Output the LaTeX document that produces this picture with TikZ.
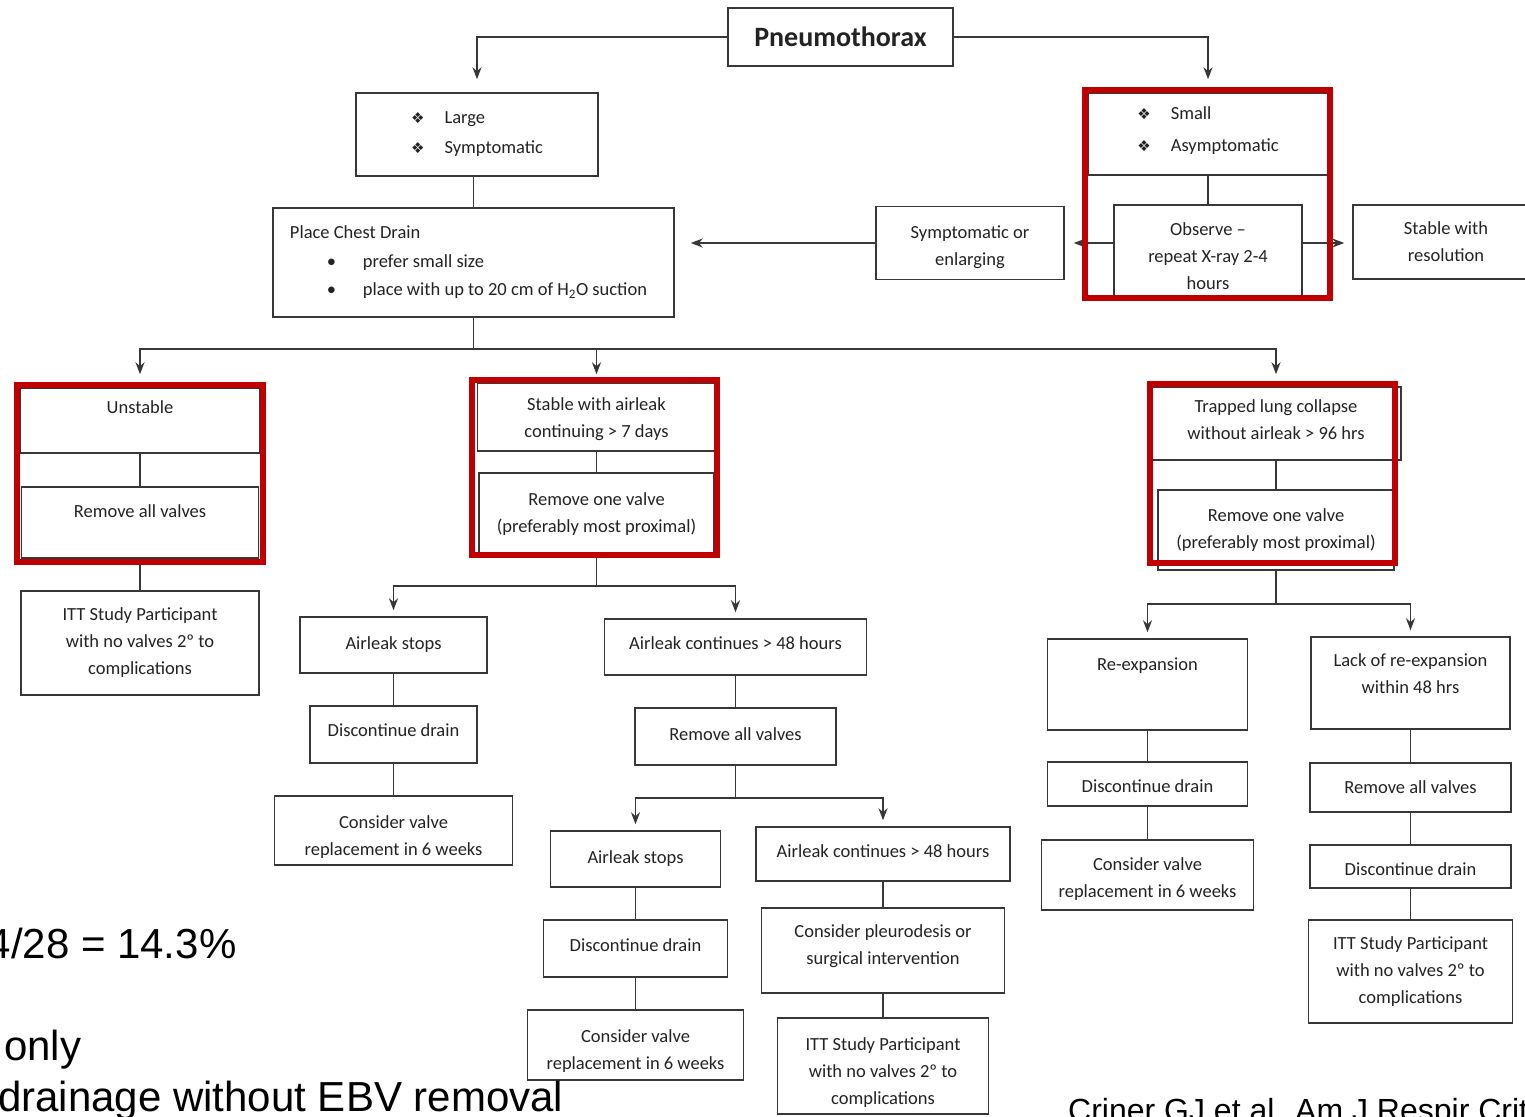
\documentclass[tikz,border=0pt]{standalone}
\usepackage{fontspec}
\setmainfont{Carlito}
\newfontfamily\dingfont{DejaVu Sans}
\newfontfamily\slidefont{Liberation Sans}
\usetikzlibrary{arrows.meta,positioning}
\definecolor{boxline}{RGB}{55,55,55}
\definecolor{boxtext}{RGB}{35,35,35}
\definecolor{framered}{RGB}{192,0,0}
\newcommand{\ding}{{\dingfont\fontsize{15}{15}\selectfont ❖}\hspace{20pt}}
\newcommand{\dotitem}{\makebox[73pt][l]{\hspace{37pt}\textbullet}}
\newcommand{\sinkto}[1]{\rule{0pt}{#1pt}}
\newcommand{\liftby}[1]{\rule[-#1pt]{0pt}{0pt}}

\tikzset{
  box/.style={draw=boxline, line width=1.5pt, fill=white, align=center, inner sep=0pt,
    text=boxtext, font=\fontsize{18.5}{27}\selectfont},
  dims/.style 2 args={minimum width=#1pt, minimum height=#2pt},
  conn/.style={draw=boxline, line width=1.6pt},
  arr/.style={conn, -{Stealth[length=12pt,width=9pt]}, shorten >=6pt},
  redframe/.style={draw=framered, line width=6pt},
  slide/.style={inner sep=0pt, anchor=base west, font=\slidefont\fontsize{42}{42}\selectfont},
}

\begin{document}
\begin{tikzpicture}[x=1pt,y=-1pt]
  \useasboundingbox (0,0) rectangle (1525,1116);
  \fill[white] (0,0) rectangle (1525,1116);
  \clip (0,0) rectangle (1525,1116);

  % top level
  \node[box, font=\bfseries\fontsize{28}{34}\selectfont, dims={225}{58}] (pneu) at (840.5,37) {Pneumothorax};
  \node[box, align=left, font=\fontsize{18.5}{30}\selectfont, dims={242}{83}] (large) at (477,134.5) {\ding Large\\\ding Symptomatic};
  \node[box, align=left, font=\fontsize{18.5}{32}\selectfont, dims={240}{82}] (small) at (1208,134) {\ding Small\\\ding Asymptomatic\liftby{10}};
  \node[box, align=left, font=\fontsize{18.5}{28.5}\selectfont, dims={401}{109}] (drain) at (473.5,262.5)
    {Place Chest Drain\\\dotitem prefer small size\\\dotitem place with up to 20 cm of H\textsubscript{2}O suction\hbox to 10pt{}};
  \node[box, dims={188}{93}] (observe) at (1208,251.5) {\sinkto{23}Observe --\\repeat X-ray 2-4\\hours};
  \node[box, dims={188}{73}] (symenl) at (970,243) {\sinkto{21}Symptomatic or\\enlarging};
  \node[box, dims={186}{74}] (stableres) at (1446,242) {Stable with\\resolution};

  % left branch
  \node[box, dims={240}{65}] (unstable) at (140,420.5) {Unstable\\\mbox{}};
  \node[box, dims={237}{71}] (rmall1) at (140,522.5) {Remove all valves\\[-4pt]\mbox{}};
  \node[box, dims={238}{104}] (itt1) at (140,643) {ITT Study Participant\\with no valves 2º to\\complications};

  % middle branch
  \node[box, dims={238}{68}] (stair) at (596.5,417) {\sinkto{17}Stable with airleak\\continuing > 7 days};
  \node[box, dims={235}{82}] (rmone1) at (596.5,514) {Remove one valve\\(preferably most proximal)};
  \node[box, dims={187}{56}] (stops1) at (393.5,645) {Airleak stops\liftby{4}};
  \node[box, dims={167}{57}] (disc1) at (393.5,734.5) {Discontinue drain\liftby{8}};
  \node[box, dims={238}{69}] (cons1) at (393.5,830.5) {\sinkto{25}Consider valve\\replacement in 6 weeks};
  \node[box, dims={262}{56}] (cont1) at (735.5,647) {Airleak continues > 48 hours\liftby{8}};
  \node[box, dims={201}{57}] (rmall2) at (735.5,736.5) {Remove all valves\liftby{4}};
  \node[box, dims={170}{56}] (stops2) at (635.5,859) {Airleak stops};
  \node[box, dims={184}{57}] (disc2) at (635.5,948.5) {Discontinue drain\liftby{6}};
  \node[box, dims={216}{70}] (cons2) at (635.5,1045) {\sinkto{25}Consider valve\\replacement in 6 weeks};
  \node[box, dims={254}{54}] (cont2) at (883,854) {Airleak continues > 48 hours\liftby{6}};
  \node[box, dims={243}{85}] (pleu) at (883,950.5) {Consider pleurodesis or\\surgical intervention\liftby{11}};
  \node[box, dims={211}{96}] (itt2) at (883,1066) {\sinkto{25}ITT Study Participant\\with no valves 2º to\\complications};

  % right branch
  \node[box, dims={250}{73}] (trap) at (1276,423.5) {Trapped lung collapse\\without airleak > 96 hrs\liftby{7}};
  \node[box, dims={236}{80}] (rmone2) at (1276,530) {Remove one valve\\(preferably most proximal)};
  \node[box, dims={200}{91}] (reexp) at (1147.5,684.5) {Re-expansion\\[13pt]\mbox{}};
  \node[box, dims={200}{44}] (disc3) at (1147.5,784) {\sinkto{17}Discontinue drain};
  \node[box, dims={212}{70}] (cons3) at (1147.5,875) {\sinkto{21}Consider valve\\replacement in 6 weeks};
  \node[box, dims={199}{92}] (lack) at (1410.5,683) {Lack of re-expansion\\within 48 hrs\\[-9pt]\mbox{}};
  \node[box, dims={201}{49}] (rmall3) at (1410.5,787.5) {Remove all valves};
  \node[box, dims={201}{43}] (disc4) at (1410.5,866.5) {\sinkto{19}Discontinue drain};
  \node[box, dims={204}{103}] (itt3) at (1410.5,971.5) {ITT Study Participant\\with no valves 2º to\\complications};

  % connectors
  \draw[arr, shorten >=13pt] (pneu.west) -| (large.north);
  \draw[arr, shorten >=13pt] (pneu.east) -| (small.north);
  \draw[conn] (drain.north) -- (drain.north |- large.south);
  \draw[conn] (small) -- (observe);
  \draw[arr, shorten >=9pt] (symenl.east -| observe.west) -- (symenl.east);
  \draw[arr, shorten >=16pt] (symenl.west) -- (symenl.west -| drain.east);
  \draw[arr, shorten >=8pt] (symenl.east -| observe.east) -- (symenl.east -| stableres.west);

  \draw[conn] (drain.south) -- ++(0,31) coordinate (busA);
  \draw[arr, shorten >=13pt] (busA) -| (unstable.north);
  \draw[arr, shorten >=8pt] (busA) -| (stair.north);
  \draw[arr, shorten >=12pt] (busA) -| (trap.north);

  \draw[conn] (unstable) -- (rmall1);
  \draw[conn] (rmall1) -- (itt1);

  \draw[conn] (stair) -- (rmone1);
  \draw[conn] (rmone1.south) -- ++(0,30) coordinate (busB);
  \draw[arr] (busB) -| (stops1.north);
  \draw[arr] (busB) -| (cont1.north);
  \draw[conn] (stops1) -- (disc1);
  \draw[conn] (disc1) -- (cons1);
  \draw[conn] (cont1) -- (rmall2);
  \draw[conn] (rmall2.south) -- ++(0,32) coordinate (busC);
  \draw[arr] (busC) -| (stops2.north);
  \draw[arr] (busC) -| (cont2.north);
  \draw[conn] (stops2) -- (disc2);
  \draw[conn] (disc2) -- (cons2);
  \draw[conn] (cont2) -- (pleu);
  \draw[conn] (pleu) -- (itt2);

  \draw[conn] (trap) -- (rmone2);
  \draw[conn] (rmone2.south) -- ++(0,33) coordinate (busD);
  \draw[arr] (busD) -| (reexp.north);
  \draw[arr] (busD) -| (lack.north);
  \draw[conn] (reexp) -- (disc3);
  \draw[conn] (disc3) -- (cons3);
  \draw[conn] (lack) -- (rmall3);
  \draw[conn] (rmall3) -- (disc4);
  \draw[conn] (disc4) -- (itt3);

  % red highlight frames
  \draw[redframe] (1085,90) rectangle (1330,298);
  \draw[redframe] (17,385) rectangle (263,562);
  \draw[redframe] (472,380) rectangle (717,555);
  \draw[redframe] (1150,384) rectangle (1395,563);

  % slide text
  \node[slide] (ratio) at (-12.5,958) {4/28 = 14.3\%};
  \node[slide] (only) at (4,1060) {only};
  \node[slide] (drainage) at (-2,1111) {drainage without EBV removal};
  \node[slide, font=\slidefont\fontsize{32}{32}\selectfont] (cite) at (1068,1121) {Criner GJ et al. Am J Respir Crit};
\end{tikzpicture}
\end{document}
